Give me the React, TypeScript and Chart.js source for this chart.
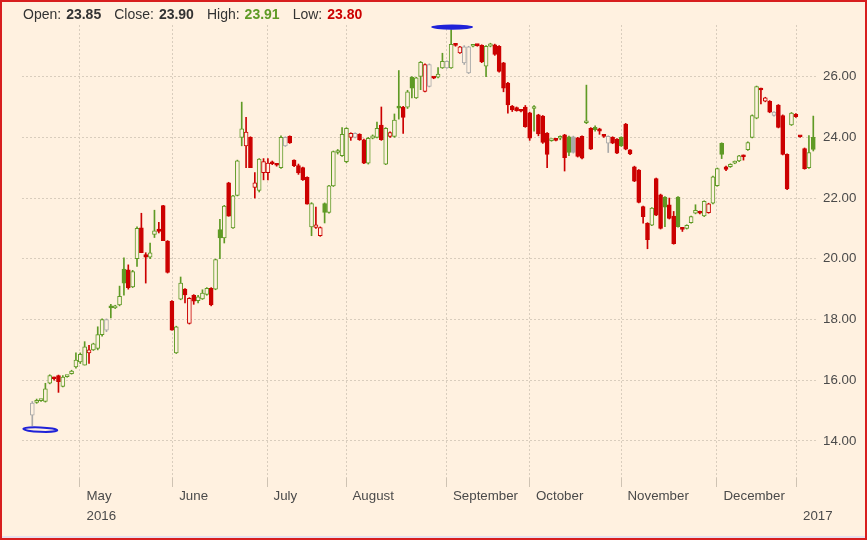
import React, { useEffect, useRef } from 'react';
import { Chart, registerables } from 'chart.js';

Chart.register(...registerables);

// ---- data (one entry per trading session, oldest first) ----
const opens = [
  14.85, 15.27, 15.33, 15.3, 15.9, 16.08, 16.15, 15.8, 16.12, 16.22,
  16.44, 16.6, 16.5, 16.9, 17.0, 17.05, 17.5, 17.65, 18.45, 18.38,
  18.48, 19.66, 19.64, 19.07, 20.0, 21.02, 20.14, 20.05, 20.8, 20.98,
  21.75, 20.58, 18.6, 16.9, 18.67, 19.0, 17.87, 18.8, 18.62, 18.68,
  18.83, 19.03, 19.0, 20.96, 20.69, 22.5, 21.02, 22.09, 24.0, 23.72,
  24.0, 22.35, 22.25, 22.84, 22.84, 23.18, 23.12, 23.0, 23.72, 24.03,
  23.25, 23.07, 23.0, 22.68, 21.05, 21.03, 20.76, 21.82, 21.53, 22.4,
  23.5, 23.4, 23.2, 24.0, 24.0, 24.1, 23.92, 23.15, 23.97, 24.0,
  24.4, 23.12, 24.03, 24.03, 25.03, 25.0, 24.99, 25.98, 25.3, 26.01,
  25.51, 25.68, 25.97, 25.98, 26.29, 26.29, 26.29, 27.06, 26.78, 26.45,
  26.12, 27.0, 27.04, 27.03, 26.34, 27.0, 27.05, 27.0, 26.45, 25.79,
  25.03, 24.98, 24.9, 25.0, 24.81, 24.95, 24.74, 24.7, 24.14, 23.89,
  23.92, 23.97, 24.08, 24.02, 24.02, 23.98, 24.03, 24.48, 24.3, 24.33,
  24.28, 24.05, 23.81, 24.0, 23.94, 24.0, 24.44, 23.59, 23.03, 22.92,
  21.72, 21.17, 21.11, 22.64, 22.11, 22.03, 21.78, 21.41, 22.03, 21.0,
  21.0, 21.19, 21.5, 21.55, 21.41, 21.52, 21.83, 22.41, 23.8, 23.03,
  23.03, 23.15, 23.22, 23.4, 23.59, 24.0, 24.63, 25.6, 25.19, 25.19,
  24.72, 25.06, 24.72, 23.44, 24.41, 24.76, 24.03, 23.63, 23.0, 24.0,
];
const highs = [
  15.3, 15.38, 15.37, 15.9, 16.18, 16.1, 16.17, 16.15, 16.16, 16.33,
  16.9, 16.9, 17.27, 17.15, 17.22, 17.76, 18.02, 18.02, 18.5, 18.47,
  19.1, 20.03, 19.8, 19.62, 21.05, 21.5, 20.2, 20.52, 21.6, 21.2,
  21.76, 20.6, 18.62, 17.78, 19.4, 19.02, 18.72, 18.82, 18.8, 18.98,
  19.05, 19.05, 19.99, 21.3, 21.76, 22.52, 22.09, 23.25, 25.16, 24.66,
  24.02, 22.84, 23.3, 23.3, 23.3, 23.22, 23.14, 24.05, 24.02, 24.05,
  23.26, 23.12, 23.02, 22.7, 21.85, 21.7, 21.05, 21.84, 22.42, 23.55,
  23.6, 24.32, 24.32, 24.15, 24.15, 24.12, 23.94, 24.0, 24.08, 24.5,
  25.0, 24.32, 24.18, 24.77, 26.2, 25.02, 25.55, 26.0, 25.98, 26.5,
  26.42, 26.42, 25.99, 26.3, 26.77, 26.52, 27.55, 27.08, 27.0, 27.02,
  27.0, 27.06, 27.06, 27.05, 27.02, 27.1, 27.07, 27.02, 26.47, 25.81,
  25.05, 25.0, 24.92, 25.05, 24.83, 25.05, 24.76, 24.72, 24.16, 23.94,
  23.94, 24.05, 24.1, 24.04, 24.04, 24.0, 24.05, 25.72, 24.32, 24.38,
  24.3, 24.07, 24.05, 24.02, 23.96, 24.02, 24.46, 23.6, 23.05, 22.94,
  21.74, 21.19, 21.69, 22.66, 22.13, 22.05, 22.0, 21.56, 22.05, 21.02,
  21.12, 21.41, 21.78, 21.57, 21.91, 21.83, 22.72, 22.99, 23.82, 23.05,
  23.13, 23.22, 23.41, 23.42, 23.85, 24.74, 25.69, 25.62, 25.32, 25.21,
  24.85, 25.08, 24.74, 23.46, 24.82, 24.78, 24.05, 23.65, 24.06, 24.7,
];
const lows = [
  14.5, 15.24, 15.3, 15.28, 15.88, 16.0, 15.6, 15.78, 16.1, 16.2,
  16.4, 16.55, 16.5, 16.55, 16.98, 17.0, 17.45, 17.6, 18.05, 18.36,
  18.45, 18.8, 19.0, 19.05, 19.75, 20.2, 19.2, 20.0, 20.7, 20.85,
  20.6, 19.53, 17.65, 16.88, 18.65, 18.55, 17.85, 18.5, 18.55, 18.66,
  18.8, 18.45, 18.98, 20.0, 20.52, 21.4, 21.0, 22.07, 23.72, 23.0,
  23.0, 22.0, 22.2, 22.6, 22.6, 23.1, 23.05, 22.98, 23.7, 23.8,
  23.03, 22.78, 22.58, 21.8, 20.76, 21.0, 20.74, 21.18, 21.5, 22.38,
  23.45, 23.37, 23.16, 23.9, 23.98, 23.9, 23.13, 23.12, 23.95, 23.98,
  23.9, 23.1, 24.0, 24.0, 24.6, 24.13, 24.95, 25.3, 25.28, 25.57,
  25.5, 25.66, 25.93, 25.96, 26.27, 26.27, 26.27, 27.0, 26.76, 26.4,
  26.1, 26.98, 27.0, 26.46, 26.0, 26.98, 26.7, 26.15, 25.5, 24.8,
  24.85, 24.86, 24.84, 24.33, 23.9, 24.2, 24.05, 23.8, 23.0, 23.87,
  23.88, 23.92, 22.89, 23.4, 23.48, 23.35, 23.29, 24.45, 23.6, 24.2,
  24.1, 24.0, 23.5, 23.79, 23.46, 23.7, 23.59, 23.43, 22.54, 21.84,
  21.17, 20.33, 21.09, 21.42, 20.98, 21.06, 21.31, 20.48, 21.04, 20.9,
  20.98, 21.17, 21.48, 21.48, 21.39, 21.5, 21.81, 22.39, 23.3, 22.9,
  23.01, 23.13, 23.2, 23.25, 23.57, 23.98, 24.61, 25.1, 25.17, 24.81,
  24.7, 24.31, 23.42, 22.28, 24.39, 24.66, 24.0, 22.95, 22.98, 23.55,
];
const closes = [
  15.25, 15.33, 15.35, 15.72, 16.15, 16.05, 15.95, 16.1, 16.15, 16.3,
  16.66, 16.85, 17.1, 17.0, 17.2, 17.5, 18.0, 18.0, 18.38, 18.45,
  18.76, 19.2, 19.05, 19.58, 21.0, 20.2, 20.05, 20.2, 20.92, 20.9,
  20.6, 19.55, 17.65, 17.76, 19.2, 18.81, 18.7, 18.6, 18.75, 18.87,
  19.03, 18.48, 19.97, 20.69, 21.74, 21.4, 22.07, 23.23, 24.28, 24.17,
  23.0, 22.5, 23.28, 23.2, 23.15, 23.13, 23.08, 24.0, 24.0, 23.82,
  23.07, 22.83, 22.6, 21.8, 21.82, 21.12, 21.03, 21.53, 22.4, 23.53,
  23.56, 24.1, 24.3, 24.13, 24.13, 23.92, 23.15, 23.97, 24.05, 24.3,
  23.92, 24.3, 24.16, 24.57, 24.96, 24.66, 25.5, 25.62, 25.96, 26.47,
  26.4, 26.4, 25.95, 26.08, 26.5, 26.5, 27.06, 27.03, 26.98, 26.98,
  26.98, 27.04, 27.02, 26.48, 27.0, 27.08, 26.73, 26.17, 25.62, 25.07,
  24.9, 24.88, 24.86, 24.35, 23.97, 25.0, 24.11, 23.83, 23.44, 23.92,
  23.9, 24.0, 23.33, 23.5, 23.5, 23.37, 23.31, 24.5, 23.61, 24.25,
  24.2, 24.03, 24.03, 23.81, 23.48, 23.72, 23.61, 23.45, 22.56, 21.86,
  21.39, 20.63, 21.67, 21.44, 21.0, 21.7, 21.33, 20.5, 21.06, 20.97,
  21.1, 21.39, 21.6, 21.5, 21.89, 21.81, 22.7, 22.97, 23.44, 22.94,
  23.11, 23.2, 23.39, 23.36, 23.83, 24.72, 25.67, 25.56, 25.3, 24.83,
  24.83, 24.33, 23.44, 22.3, 24.8, 24.68, 24.02, 22.97, 23.5, 23.6,
];

// session index at which each month begins (x-axis ticks) and its label
const monthTicks = [10.93, 32.18, 53.8, 71.9, 94.93, 113.96, 134.93, 156.93, 175.15];
const monthLabels = [
  ['May', '2016'], ['June'], ['July'], ['August'], ['September'],
  ['October'], ['November'], ['December'], ['', '2017'],
];
const priceTicks = [14, 16, 18, 20, 22, 24, 26];

// header read-out
const legendOpen = '23.85';
const legendClose = '23.90';
const legendHigh = '23.91';
const legendLow = '23.80';

// ---- styling ----
const BG = '#FFF1E0';
const GREEN = '#5f9a25';
const RED = '#cc0000';
const GRAY = '#a9a9a9';
const GRID = '#d9cdbd';
const TEXT = '#4a4a4a';
const FONT = "'Liberation Sans', Arial, sans-serif";

const candleColor = (i: number) => {
  if (i === undefined || i === null || i <= 0) return GRAY;
  const d = closes[i] - closes[i - 1];
  if (Math.abs(d) < 1e-9) return GRAY;
  return d > 0 ? GREEN : RED;
};
const isHollow = (i: number) => closes[i] > opens[i];

const extremesPlugin = {
  id: 'extremes',
  afterDatasetsDraw(chart: any) {
    const xs = chart.scales.x;
    const ys = chart.scales.y;
    let hi = 0;
    let lo = 0;
    highs.forEach((h, i) => { if (h > highs[hi]) hi = i; });
    lows.forEach((l, i) => { if (l < lows[lo]) lo = i; });
    const ctx = chart.ctx;
    ctx.save();
    ctx.fillStyle = '#1f22d8';
    ctx.strokeStyle = '#1f22d8';
    const hx = xs.getPixelForValue(hi);
    const hy = ys.getPixelForValue(highs[hi]);
    ctx.beginPath();
    ctx.ellipse(hx + 1, hy - 2.5, 21, 2.6, 0, 0, Math.PI * 2);
    ctx.fill();
    const lx = xs.getPixelForValue(lo);
    const ly = ys.getPixelForValue(lows[lo]);
    ctx.lineWidth = 2;
    ctx.beginPath();
    ctx.ellipse(lx + 8, ly + 3.8, 17, 2.2, 0.04, 0, Math.PI * 2);
    ctx.stroke();
    ctx.restore();
  },
};

export default function App() {
  const canvasRef = useRef<HTMLCanvasElement>(null);

  useEffect(() => {
    const canvas = canvasRef.current;
    if (!canvas) return;
    const idx = opens.map((_, i) => i);
    const font = { family: FONT, size: 13.3, lineHeight: 1.466 };

    const chart = new Chart(canvas, {
      type: 'bar',
      data: {
        datasets: [
          {
            label: 'body',
            data: idx.map((i) => ({ x: i, y: [opens[i], closes[i]] })) as any,
            order: 1,
            grouped: false,
            barThickness: 4,
            minBarLength: 2,
            borderWidth: 1,
            borderSkipped: false,
            backgroundColor: (c: any) =>
              c.dataIndex === undefined ? GREEN : isHollow(c.dataIndex) ? BG : candleColor(c.dataIndex),
            borderColor: (c: any) => (c.dataIndex === undefined ? GREEN : candleColor(c.dataIndex)),
          } as any,
          {
            label: 'wick',
            data: idx.map((i) => ({ x: i, y: [lows[i], highs[i]] })) as any,
            order: 2,
            grouped: false,
            barThickness: 1,
            minBarLength: 1,
            borderWidth: 0,
            backgroundColor: (c: any) => (c.dataIndex === undefined ? GREEN : candleColor(c.dataIndex)),
          } as any,
        ],
      },
      options: {
        animation: false,
        responsive: false,
        devicePixelRatio: 1,
        events: [],
        layout: { padding: { left: 22, top: 25, right: 0, bottom: 0 } },
        plugins: { legend: { display: false }, tooltip: { enabled: false } },
        scales: {
          x: {
            type: 'linear',
            min: -2.36,
            max: 180.08,
            offset: false,
            afterBuildTicks: (s: any) => {
              s.ticks = monthTicks.map((v) => ({ value: v }));
            },
            afterFit: (s: any) => {
              s.height = 62;
            },
            ticks: {
              autoSkip: false,
              maxRotation: 0,
              minRotation: 0,
              align: 'start',
              labelOffset: 6.5,
              padding: 0,
              color: TEXT,
              font,
              callback: (_v: any, i: number) => monthLabels[i],
            },
            grid: {
              offset: false,
              color: GRID,
              lineWidth: 1,
              drawTicks: true,
              tickLength: 9,
              tickColor: '#cfc3b3',
              tickBorderDash: [],
            },
            border: { display: false, dash: [2, 2] },
          } as any,
          y: {
            type: 'linear',
            position: 'right',
            min: 12.78,
            max: 27.7,
            afterBuildTicks: (s: any) => {
              s.ticks = priceTicks.map((v) => ({ value: v }));
            },
            afterFit: (s: any) => {
              s.width = 49;
            },
            ticks: {
              padding: 5,
              color: TEXT,
              font,
              callback: (v: any) => Number(v).toFixed(2),
            },
            grid: { color: GRID, lineWidth: 1, drawTicks: false },
            border: { display: false, dash: [2, 2] },
          } as any,
        },
      },
      plugins: [extremesPlugin],
    });
    return () => chart.destroy();
  }, []);

  const label: React.CSSProperties = { color: '#333' };
  const val: React.CSSProperties = { fontWeight: 'bold', marginLeft: 5, marginRight: 13 };

  return (
    <div style={{ position: 'absolute', left: 0, top: 0, width: 867, height: 540, background: BG, overflow: 'hidden' }}>
      <canvas ref={canvasRef} width={867} height={540} style={{ display: 'block', width: 867, height: 540 }} />
      <div
        style={{
          position: 'absolute', left: 23, top: 5, fontFamily: FONT, fontSize: 14, lineHeight: '18px',
          whiteSpace: 'nowrap', color: '#333',
        }}
      >
        <span style={label}>Open:</span><span style={{ ...val, color: '#333' }}>{legendOpen}</span>
        <span style={label}>Close:</span><span style={{ ...val, color: '#333' }}>{legendClose}</span>
        <span style={label}>High:</span><span style={{ ...val, color: GREEN }}>{legendHigh}</span>
        <span style={label}>Low:</span><span style={{ ...val, color: RED }}>{legendLow}</span>
      </div>
      <div
        style={{
          position: 'absolute', left: 0, top: 0, width: 867, height: 540, boxSizing: 'border-box',
          border: '2px solid #d81e1e', boxShadow: 'inset 0 -2px 0 #e6e0ee', pointerEvents: 'none',
        }}
      />
    </div>
  );
}
